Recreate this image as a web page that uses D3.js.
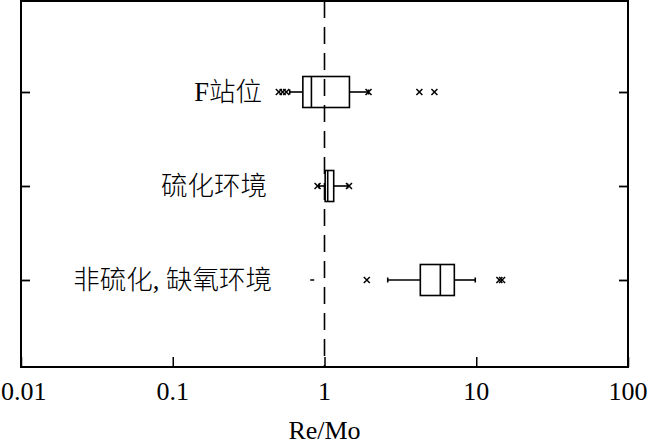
<!DOCTYPE html>
<html><head><meta charset="utf-8">
<script src="https://cdn.jsdelivr.net/npm/d3@7"></script>
<style>
html,body{margin:0;padding:0;background:#fff;}
svg{display:block;}
</style></head>
<body>
<svg id="chart" width="650" height="446"></svg>
<script>
// ---- data ----
const categories = ['F站位', '硫化环境', '非硫化, 缺氧环境'];
const q1Values = [0.72, 1.01, 4.28];
const medianValues = [0.82, 1.05, 5.8];
const q3Values = [1.46, 1.15, 7.17];
const whiskerLow = [0.59, 0.92, 2.61];
const whiskerHigh = [1.95, 1.42, 9.85];
const outlierValues = [
  [0.50, 0.53, 0.56, 1.95, 4.22, 5.3],
  [0.90, 1.45],
  [1.9, 14.2, 14.8]
];
const dashMarkers = [[], [], [0.83]];
const xTickValues = [0.01, 0.1, 1, 10, 100];
const xTickLabels = ['0.01', '0.1', '1', '10', '100'];
const xTitle = 'Re/Mo';
const refValue = 1;

// ---- layout ----
const W = 650;
const L = 21, R = 628, T = 1, B = 367;
const boxH = 31, capH = 5, mk = 3;
const labelEnd = [262, 267, 272];
const serif = "'Liberation Serif','Times New Roman',serif";
const cjk = "'Liberation Serif','Noto Sans CJK SC',serif";

const svg = d3.select('#chart');
const x = d3.scaleLog().domain([0.01, 100]).range([L, R]);
const y = d3.scalePoint().domain(categories).range([92, 280]);

// reference dashed line
svg.append('line')
  .attr('x1', x(refValue)).attr('x2', x(refValue))
  .attr('y1', T).attr('y2', B)
  .attr('stroke', '#000').attr('stroke-width', 1.6)
  .attr('stroke-dasharray', '17,9');

// frame
svg.append('rect').attr('x', L).attr('y', T).attr('width', R - L).attr('height', B - T)
  .attr('fill', 'none').attr('stroke', '#000').attr('stroke-width', 2);

// bottom ticks (inward)
const xAxis = d3.axisBottom(x).tickValues(xTickValues).tickSize(-10).tickFormat('');
const gx = svg.append('g').attr('transform', `translate(0,${B})`).call(xAxis);
gx.select('.domain').remove();
gx.selectAll('line').attr('stroke', '#000').attr('stroke-width', 1.5);
svg.append('g').selectAll('text').data(xTickValues).join('text')
  .attr('x', d => x(d)).attr('y', 400)
  .attr('text-anchor', 'middle')
  .attr('font-family', serif).attr('font-size', 26).attr('fill', '#000')
  .text((d, i) => xTickLabels[i])
  .each(function (d) {
    const w = this.getComputedTextLength();
    const cx = Math.min(Math.max(x(d), w / 2 + 1), W - w / 2 - 1);
    d3.select(this).attr('x', cx);
  });
svg.append('text').attr('x', x(refValue)).attr('y', 439)
  .attr('text-anchor', 'middle')
  .attr('font-family', serif).attr('font-size', 26).attr('fill', '#000')
  .text(xTitle);

// left / right ticks (inward)
const gl = svg.append('g').attr('transform', `translate(${L},0)`)
  .call(d3.axisLeft(y).tickSize(-9).tickFormat(''));
gl.select('.domain').remove();
gl.selectAll('line').attr('stroke', '#000').attr('stroke-width', 1.8);
const gr = svg.append('g').attr('transform', `translate(${R},0)`)
  .call(d3.axisRight(y).tickSize(-9).tickFormat(''));
gr.select('.domain').remove();
gr.selectAll('line').attr('stroke', '#000').attr('stroke-width', 1.8);

// category labels
svg.append('g').selectAll('text').data(categories).join('text')
  .attr('x', (d, i) => labelEnd[i]).attr('y', d => y(d) + 9)
  .attr('text-anchor', 'end')
  .attr('font-family', cjk).attr('font-size', 26.5).attr('font-weight', 300).attr('fill', '#000')
  .text(d => d);

// boxes
const rows = categories.map((c, i) => ({
  c, q1: q1Values[i], med: medianValues[i], q3: q3Values[i],
  lo: whiskerLow[i], hi: whiskerHigh[i], out: outlierValues[i], dash: dashMarkers[i]
}));
const g = svg.append('g').attr('stroke', '#000').attr('fill', 'none').attr('stroke-width', 1.6);
rows.forEach(r => {
  const cy = y(r.c);
  g.append('line').attr('x1', x(r.lo)).attr('x2', x(r.q1)).attr('y1', cy).attr('y2', cy);
  g.append('line').attr('x1', x(r.q3)).attr('x2', x(r.hi)).attr('y1', cy).attr('y2', cy);
  [r.lo, r.hi].forEach(v => g.append('line').attr('x1', x(v)).attr('x2', x(v))
    .attr('y1', cy - capH / 2).attr('y2', cy + capH / 2));
  g.append('rect').attr('x', x(r.q1)).attr('y', cy - boxH / 2)
    .attr('width', x(r.q3) - x(r.q1)).attr('height', boxH);
  g.append('line').attr('x1', x(r.med)).attr('x2', x(r.med))
    .attr('y1', cy - boxH / 2).attr('y2', cy + boxH / 2);
  r.out.forEach(v => {
    const px = x(v);
    g.append('path').attr('d', `M${px - mk},${cy - mk}L${px + mk},${cy + mk}M${px - mk},${cy + mk}L${px + mk},${cy - mk}`)
      .attr('stroke-width', 1.5);
  });
  r.dash.forEach(v => {
    const px = x(v);
    g.append('line').attr('x1', px - 2).attr('x2', px + 2).attr('y1', cy).attr('y2', cy).attr('stroke-width', 1.5);
  });
});
</script>
</body></html>
